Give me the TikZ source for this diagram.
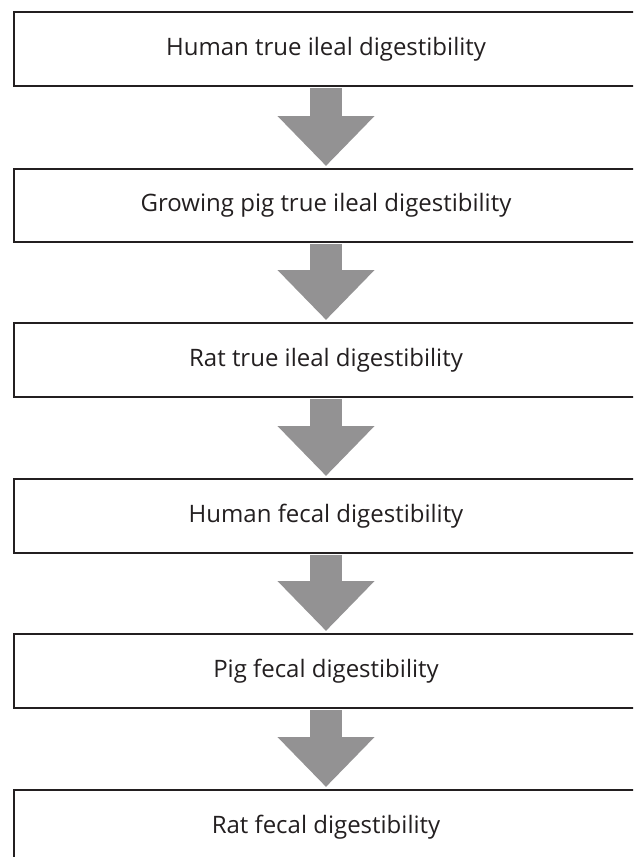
\documentclass[tikz,border=0pt]{standalone}
\usepackage{fontspec}
\setmainfont{Open Sans}
\usetikzlibrary{arrows.meta,calc}
\definecolor{ink}{RGB}{35,31,32}
\definecolor{arrowgray}{RGB}{147,146,147}
\tikzset{
  box/.style={draw=ink, line width=2pt, fill=white, minimum width=624pt, minimum height=74pt,
    inner sep=0pt, text=ink, font=\fontsize{24pt}{28pt}\selectfont, anchor=center},
  flow/.style={arrowgray, line width=32pt, -{Triangle[width=94pt,length=50pt]}}
}
\begin{document}
\begin{tikzpicture}[x=1pt,y=-1pt]
\useasboundingbox (0,0) rectangle (633,857);
\clip (0,0) rectangle (633,857);
\fill[white] (0,0) rectangle (633,857);
\node[box] (b1) at (326,49) {Human true ileal digestibility};
\node[box, minimum height=73pt] (b2) at (326,205.5) {Growing pig true ileal digestibility};
\node[box] (b3) at (326,360) {Rat true ileal digestibility};
\node[box] (b4) at (326,516) {Human fecal digestibility};
\node[box] (b5) at (326,671) {Pig fecal digestibility};
\node[box] (b6) at (326,827) {Rat fecal digestibility};
\draw[flow] ($(b1.south)+(0,1)$) -- ($(b2.north)+(0,-2)$);
\draw[flow] ($(b2.south)+(0,1)$) -- ($(b3.north)+(0,-2)$);
\draw[flow] ($(b3.south)+(0,1)$) -- ($(b4.north)+(0,-2)$);
\draw[flow] ($(b4.south)+(0,1)$) -- ($(b5.north)+(0,-2)$);
\draw[flow] ($(b5.south)+(0,1)$) -- ($(b6.north)+(0,-2)$);
\end{tikzpicture}
\end{document}
